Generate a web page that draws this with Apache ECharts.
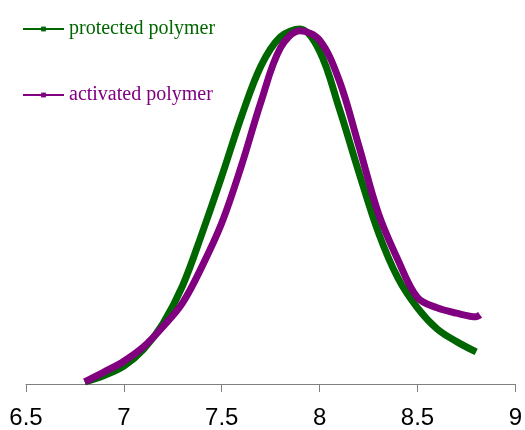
<!DOCTYPE html>
<html>
  <head>
    <meta charset="utf-8" />
    <title>ECharts</title>
    <script src="https://cdn.jsdelivr.net/npm/echarts@6/dist/echarts.min.js"></script>
  </head>
  <body style="margin:0">
    <div id="main" style="width: 525px;height:430px;"></div>
    <script type="text/javascript">
const seriesNames = ['protected polymer', 'activated polymer'];
const xTicks = [6.5, 7, 7.5, 8, 8.5, 9];

// x positions (0.1 steps)
const xValues = [6.8, 6.9, 7.0, 7.1, 7.2, 7.3, 7.4, 7.5, 7.6, 7.7, 7.8, 7.9, 8.0, 8.1, 8.2, 8.3, 8.4, 8.5, 8.6, 8.7, 8.8];
const protectedY = [0.006, 0.024, 0.050, 0.097, 0.170, 0.276, 0.424, 0.583, 0.750, 0.893, 0.975, 0.997, 0.935, 0.775, 0.596, 0.426, 0.298, 0.214, 0.155, 0.119, 0.090];
const activatedY = [0.006, 0.034, 0.064, 0.104, 0.161, 0.228, 0.331, 0.452, 0.612, 0.792, 0.944, 0.992, 0.966, 0.853, 0.670, 0.480, 0.349, 0.243, 0.214, 0.199, 0.189];
// last point of the activated curve sits a bit past 8.8
const activatedEnd = [8.82, 0.194];

const colors = ['#006600', '#800080'];

function pairs(xs, ys) {
  return xs.map(function (x, i) { return [x, ys[i]]; });
}

var chartDom = document.getElementById('main');
var myChart = echarts.init(chartDom);
var option;

option = {
  animation: false,
  grid: { left: 26, right: 9, top: 28, bottom: 46 },
  legend: {
    orient: 'vertical',
    left: 17,
    top: 14,
    itemWidth: 41,
    itemHeight: 6,
    itemGap: 46,
    lineStyle: { width: 2 },
    data: seriesNames.map(function (n, i) {
      return { name: n, textStyle: { color: colors[i] } };
    }),
    textStyle: { fontFamily: 'Liberation Serif', fontSize: 20 }
  },
  xAxis: {
    type: 'value',
    min: xTicks[0],
    max: xTicks[xTicks.length - 1],
    interval: 0.5,
    splitLine: { show: false },
    axisLine: { lineStyle: { color: '#808080', width: 1 } },
    axisTick: { show: true, length: 8, lineStyle: { color: '#808080' } },
    axisLabel: { fontFamily: 'Liberation Sans', fontSize: 24, color: '#000', margin: 22, showMinLabel: true, showMaxLabel: true }
  },
  yAxis: {
    type: 'value',
    min: 0,
    max: 1,
    show: false
  },
  series: [
    {
      name: seriesNames[0],
      type: 'line',
      smooth: 0.35,
      symbol: 'rect',
      showSymbol: false,
      color: colors[0],
      lineStyle: { width: 7, color: colors[0] },
      data: pairs(xValues, protectedY)
    },
    {
      name: seriesNames[1],
      type: 'line',
      smooth: 0.35,
      symbol: 'rect',
      showSymbol: false,
      color: colors[1],
      lineStyle: { width: 7, color: colors[1] },
      data: pairs(xValues, activatedY).concat([activatedEnd])
    }
  ]
};

option && myChart.setOption(option);
    </script>
  </body>
</html>
